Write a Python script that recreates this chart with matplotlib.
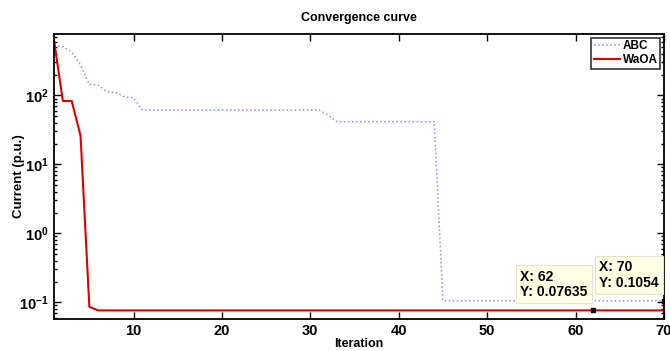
import numpy as np
import matplotlib
matplotlib.use("Agg")
import matplotlib.pyplot as plt
from matplotlib.ticker import LogLocator, FixedLocator

plt.rcParams['font.family'] = ['Liberation Sans', 'DejaVu Sans']
plt.rcParams['font.weight'] = 'bold'
plt.rcParams['mathtext.fontset'] = 'custom'
plt.rcParams['mathtext.rm'] = 'Liberation Sans'
plt.rcParams['mathtext.bf'] = 'Liberation Sans:bold'
plt.rcParams['mathtext.default'] = 'bf'

iterations = np.arange(1, 71)

# ABC best value per iteration
abc = ([535, 505, 428, 275, 144, 141, 113, 109, 95, 92]
       + [61] * 21
       + [52]
       + [41.5] * 12
       + [0.1054] * 26)

# WaOA best value per iteration
waoa = [630, 83, 83, 26, 0.086] + [0.07635] * 65

tips = [(62, 0.07635), (70, 0.1054)]

fig = plt.figure(figsize=(6.7, 3.51), dpi=100)
ax = fig.add_axes([54 / 670, 1 - 319 / 351, 610 / 670, 285 / 351])

ax.semilogy(iterations, abc, linestyle=':', color='#8c8cff', lw=1.1, label='ABC')
ax.semilogy(iterations, waoa, color='#dd0000', lw=1.5, label='WaOA')

ax.set_xlim(1, 70)
ax.set_ylim(0.0573, 775)
ax.xaxis.set_major_locator(FixedLocator([10, 20, 30, 40, 50, 60, 70]))
ax.yaxis.set_major_locator(LogLocator(base=10, numticks=10))
ax.yaxis.set_minor_locator(LogLocator(base=10, subs=np.arange(2, 10), numticks=10))

ax.tick_params(which='both', direction='in', top=True, right=True, labelsize=10.5, width=1)
ax.tick_params(which='major', length=5)
ax.tick_params(which='minor', length=2.5)
for s in ax.spines.values():
    s.set_linewidth(1.3)

ax.set_title('Convergence curve', fontsize=9, fontweight='bold', pad=9)
ax.set_xlabel('Iteration', fontsize=9, fontweight='bold', labelpad=0)
ax.set_ylabel('Current (p.u.)', fontsize=9.5, fontweight='bold', labelpad=-4)

leg = ax.legend(loc='upper right', fontsize=8.5, frameon=True, fancybox=False,
                edgecolor='black', borderaxespad=0.3, handlelength=2.2,
                handletextpad=0.2, borderpad=0.25, labelspacing=0.1)
leg.get_frame().set_linewidth(1.2)

for tx, ty in tips:
    ax.plot(tx, ty, 's', color='black', ms=3, zorder=5)
    ax.annotate('X: %d\nY: %s' % (tx, ('%.5f' % ty).rstrip('0')), xy=(tx, ty),
                xytext=(-4, 8), textcoords='offset points', ha='right', va='bottom',
                multialignment='left', fontsize=10, fontweight='bold', linespacing=1.15,
                bbox=dict(boxstyle='square,pad=0.3', fc='#ffffe4', ec='#e4e4cc', lw=0.8),
                zorder=6)

fig.savefig('out.png', dpi=100)
